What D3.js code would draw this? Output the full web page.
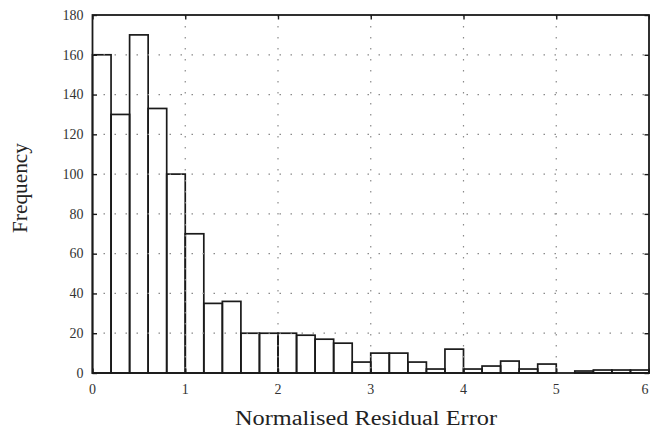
<!DOCTYPE html>
<html>
<head>
<meta charset="utf-8">
<script src="https://cdn.jsdelivr.net/npm/d3@7"></script>
<style>
  html, body { margin: 0; padding: 0; background: #fff; }
  svg { display: block; }
</style>
</head>
<body>
<svg id="chart" width="650" height="431"></svg>
<script>
// ---- data ----
const binLeft  = [0.0,0.2,0.4,0.6,0.8,1.0,1.2,1.4,1.6,1.8,2.0,2.2,2.4,2.6,2.8,3.0,3.2,3.4,3.6,3.8,4.0,4.2,4.4,4.6,4.8,5.0,5.2,5.4,5.6,5.8];
const binRight = [0.2,0.4,0.6,0.8,1.0,1.2,1.4,1.6,1.8,2.0,2.2,2.4,2.6,2.8,3.0,3.2,3.4,3.6,3.8,4.0,4.2,4.4,4.6,4.8,5.0,5.2,5.4,5.6,5.8,6.0];
const counts   = [160,130,170,133,100,70,35,36,20,20,20,19,17,15,5.5,10,10,5.5,2,12,2,3.5,6,2,4.5,0,1,1.5,1.5,1.5];
const xTicks = [0,1,2,3,4,5,6];
const yTicks = [0,20,40,60,80,100,120,140,160,180];
const xLabel = "Normalised Residual Error";
const yLabel = "Frequency";

// ---- layout ----
const mLeft = 92.5, mRight = 649, mTop = 15, mBottom = 373;
const svg = d3.select("#chart");
const x = d3.scaleLinear().domain([0, 6]).range([mLeft, mRight]);
const y = d3.scaleLinear().domain([0, 180]).range([mBottom, mTop]);

const ink = "#1a1a1a";
const serif = "Liberation Serif, DejaVu Serif, serif";

// bars (white faces)
svg.append("g").selectAll("rect").data(counts).join("rect")
  .attr("x", (d, i) => x(binLeft[i]))
  .attr("width", (d, i) => x(binRight[i]) - x(binLeft[i]))
  .attr("y", d => y(d))
  .attr("height", d => y(0) - y(d))
  .attr("fill", "none")
  .attr("stroke", ink)
  .attr("stroke-width", 1.7);

// dotted grid
const grid = svg.append("g").attr("stroke", "#8a8a8a").attr("stroke-width", 1.2)
  .attr("stroke-dasharray", "1.5,9.5");
grid.selectAll("line.gx").data(xTicks.slice(1, -1)).join("line")
  .attr("x1", d => x(d)).attr("x2", d => x(d))
  .attr("y1", mTop).attr("y2", mBottom);
grid.selectAll("line.gy").data(yTicks.slice(1, -1)).join("line")
  .attr("y1", d => y(d)).attr("y2", d => y(d))
  .attr("x1", mLeft).attr("x2", mRight);

// axes (inward ticks, on all four sides)
const tickLen = 4.5;
const axL = svg.append("g").attr("transform", `translate(${mLeft},0)`)
  .call(d3.axisRight(y).tickValues(yTicks).tickSize(tickLen).tickFormat(""));
const axR = svg.append("g").attr("transform", `translate(${mRight},0)`)
  .call(d3.axisLeft(y).tickValues(yTicks).tickSize(tickLen).tickFormat(""));
const axB = svg.append("g").attr("transform", `translate(0,${mBottom})`)
  .call(d3.axisTop(x).tickValues(xTicks).tickSize(tickLen).tickFormat(""));
const axT = svg.append("g").attr("transform", `translate(0,${mTop})`)
  .call(d3.axisBottom(x).tickValues(xTicks).tickSize(tickLen).tickFormat(""));
[axL, axR, axB, axT].forEach(a => {
  a.select(".domain").remove();
  a.selectAll(".tick line").attr("stroke", ink).attr("stroke-width", 1.4);
});

// frame
svg.append("rect")
  .attr("x", mLeft).attr("y", mTop)
  .attr("width", mRight - mLeft).attr("height", mBottom - mTop)
  .attr("fill", "none").attr("stroke", ink).attr("stroke-width", 1.8);

// tick labels
svg.append("g").selectAll("text").data(yTicks).join("text")
  .attr("x", mLeft - 9).attr("y", d => y(d))
  .attr("dy", "0.34em")
  .attr("text-anchor", "end")
  .style("font-family", serif).style("font-size", "14px").attr("fill", "#333")
  .text(d => d);
svg.append("g").selectAll("text").data(xTicks).join("text")
  .attr("x", d => Math.min(x(d), 645)).attr("y", 394)
  .attr("text-anchor", "middle")
  .style("font-family", serif).style("font-size", "14px").attr("fill", "#333")
  .text(d => d);

// axis titles
svg.append("text")
  .attr("x", 366).attr("y", 425)
  .attr("text-anchor", "middle")
  .style("font-family", serif).style("font-size", "20px").attr("fill", "#222")
  .attr("textLength", 262).attr("lengthAdjust", "spacingAndGlyphs")
  .text(xLabel);
svg.append("text")
  .attr("transform", "translate(27,188) rotate(-90)")
  .attr("text-anchor", "middle")
  .style("font-family", serif).style("font-size", "20px").attr("fill", "#222")
  .attr("textLength", 90).attr("lengthAdjust", "spacingAndGlyphs")
  .text(yLabel);
</script>
</body>
</html>
